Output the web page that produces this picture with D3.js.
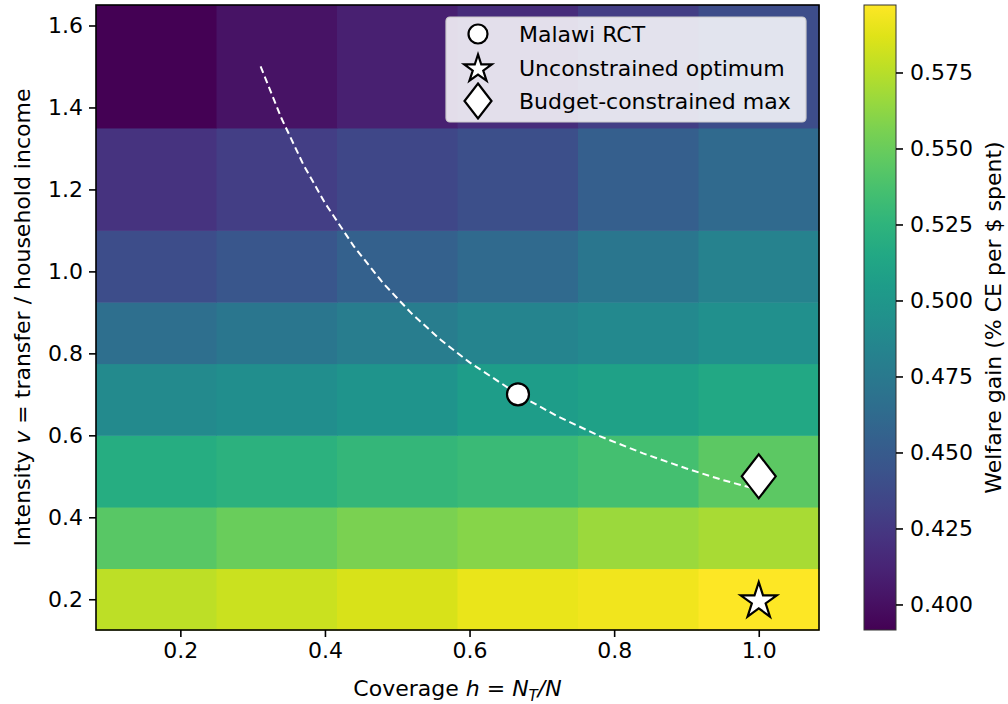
<!DOCTYPE html>
<html>
<head>
<meta charset="utf-8">
<script src="https://cdn.jsdelivr.net/npm/d3@7"></script>
<style>
  body { margin: 0; background: #fff; }
  svg text { font-family: "DejaVu Sans", sans-serif; fill: #000; }
</style>
</head>
<body>
<svg id="chart" width="1008" height="704"></svg>
<script>
// coverage h (columns) and intensity v (rows)
const coverage = [1 / 6, 2 / 6, 3 / 6, 4 / 6, 5 / 6, 1.0];
const intensity = [0.2, 0.35, 0.5, 0.7, 0.85, 1.0, 1.2, 1.5];

// welfare gain per cell, one row per intensity value (bottom to top)
const welfare = [
  [0.577, 0.581, 0.585, 0.590, 0.593, 0.597],
  [0.544, 0.550, 0.556, 0.560, 0.566, 0.570],
  [0.519, 0.523, 0.528, 0.531, 0.536, 0.545],
  [0.489, 0.492, 0.498, 0.505, 0.509, 0.515],
  [0.466, 0.472, 0.478, 0.484, 0.488, 0.494],
  [0.439, 0.447, 0.455, 0.462, 0.472, 0.482],
  [0.422, 0.429, 0.435, 0.441, 0.453, 0.462],
  [0.3916, 0.402, 0.410, 0.418, 0.429, 0.439]
];
const colorRange = [0.3916, 0.5972];

// iso-budget curve (dashed)
const budgetH = [0.311, 0.34, 0.37, 0.40, 0.44, 0.48, 0.52, 0.56, 0.60, 0.667, 0.72, 0.78, 0.84, 0.90, 0.95, 1.0];
const budgetV = [1.50, 1.373, 1.261, 1.167, 1.061, 0.972, 0.897, 0.833, 0.778, 0.70, 0.648, 0.598, 0.556, 0.519, 0.491, 0.467];

const points = [
  { name: "Malawi RCT", h: 0.667, v: 0.7, shape: "circle" },
  { name: "Unconstrained optimum", h: 1.0, v: 0.2, shape: "star" },
  { name: "Budget-constrained max", h: 1.0, v: 0.5, shape: "diamond" }
];

const xTicks = [0.2, 0.4, 0.6, 0.8, 1.0];
const yTicks = [0.2, 0.4, 0.6, 0.8, 1.0, 1.2, 1.4, 1.6];
const cTicks = [0.400, 0.425, 0.450, 0.475, 0.500, 0.525, 0.550, 0.575];

const plot = { left: 96, right: 819, top: 5, bottom: 630 };
const cbar = { left: 864, right: 896, top: 5, bottom: 630 };
const fontSize = 22;

const svg = d3.select("svg#chart");

// cell edges halfway between centres, extended at the ends
function edges(c) {
  const e = [c[0] - (c[1] - c[0]) / 2];
  for (let i = 0; i < c.length - 1; i++) e.push((c[i] + c[i + 1]) / 2);
  e.push(c[c.length - 1] + (c[c.length - 1] - c[c.length - 2]) / 2);
  return e;
}
const xEdges = edges(coverage);
const yEdges = edges(intensity);

const x = d3.scaleLinear().domain([xEdges[0], xEdges[xEdges.length - 1]]).range([plot.left, plot.right]);
const y = d3.scaleLinear().domain([yEdges[0], yEdges[yEdges.length - 1]]).range([plot.bottom, plot.top]);
const color = d3.scaleSequential(d3.interpolateViridis).domain(colorRange);

const cells = [];
welfare.forEach((row, j) => row.forEach((val, i) => cells.push({ i, j, val })));

svg.append("g")
  .selectAll("rect")
  .data(cells)
  .join("rect")
  .attr("x", (d) => x(xEdges[d.i]))
  .attr("y", (d) => y(yEdges[d.j + 1]))
  .attr("width", (d) => x(xEdges[d.i + 1]) - x(xEdges[d.i]) + 0.5)
  .attr("height", (d) => y(yEdges[d.j]) - y(yEdges[d.j + 1]) + 0.5)
  .attr("fill", (d) => color(d.val));

// dashed curve
const line = d3.line().x((d) => x(d[0])).y((d) => y(d[1]));
svg.append("path")
  .attr("d", line(budgetH.map((h, k) => [h, budgetV[k]])))
  .attr("fill", "none")
  .attr("stroke", "#fff")
  .attr("stroke-width", 2)
  .attr("stroke-dasharray", "7,4");

function starPath(R) {
  const pts = [];
  const r = R * 0.381966;
  for (let k = 0; k < 10; k++) {
    const a = -Math.PI / 2 + (k * Math.PI) / 5;
    const rr = k % 2 === 0 ? R : r;
    pts.push([rr * Math.cos(a), rr * Math.sin(a) + R * 0.1]);
  }
  return "M" + pts.map((p) => p.join(",")).join("L") + "Z";
}
function markerPath(shape, s) {
  if (shape === "circle") return d3.symbol(d3.symbolCircle, Math.PI * s.r * s.r)();
  if (shape === "star") return starPath(s.R);
  return `M0,${-s.h / 2}L${s.w / 2},0L0,${s.h / 2}L${-s.w / 2},0Z`;
}
const plotSize = { r: 11, R: 19, w: 34, h: 44 };
const legendSize = { r: 9.5, R: 14.5, w: 27, h: 35 };

svg.append("g")
  .selectAll("path")
  .data(points)
  .join("path")
  .attr("transform", (d) => `translate(${x(d.h)},${y(d.v)})`)
  .attr("d", (d) => markerPath(d.shape, plotSize))
  .attr("fill", "#fff")
  .attr("stroke", "#000")
  .attr("stroke-width", 2.2);

// frame
svg.append("rect")
  .attr("x", plot.left).attr("y", plot.top)
  .attr("width", plot.right - plot.left).attr("height", plot.bottom - plot.top)
  .attr("fill", "none").attr("stroke", "#000").attr("stroke-width", 1.6);

// axes
const xAxis = svg.append("g")
  .attr("transform", `translate(0,${plot.bottom})`)
  .call(d3.axisBottom(x).tickValues(xTicks).tickFormat(d3.format(".1f")).tickSize(7).tickPadding(5));
const yAxis = svg.append("g")
  .attr("transform", `translate(${plot.left},0)`)
  .call(d3.axisLeft(y).tickValues(yTicks).tickFormat(d3.format(".1f")).tickSize(7).tickPadding(6));
[xAxis, yAxis].forEach((g) => {
  g.select(".domain").remove();
  g.selectAll("line").attr("stroke", "#000").attr("stroke-width", 1.6);
  g.selectAll("text").attr("font-size", fontSize).attr("font-family", "DejaVu Sans");
});

// axis labels
const xl = svg.append("text")
  .attr("x", (plot.left + plot.right) / 2)
  .attr("y", 696)
  .attr("text-anchor", "middle")
  .attr("font-size", fontSize);
xl.append("tspan").text("Coverage ");
xl.append("tspan").attr("font-style", "italic").text("h");
xl.append("tspan").text(" = ");
xl.append("tspan").attr("font-style", "italic").text("N");
xl.append("tspan").attr("font-style", "italic").attr("font-size", 15).attr("dy", 5).text("T");
xl.append("tspan").attr("font-style", "italic").attr("dy", -5).text("/N");

const yl = svg.append("text")
  .attr("transform", `translate(30,${(plot.top + plot.bottom) / 2}) rotate(-90)`)
  .attr("text-anchor", "middle")
  .attr("font-size", fontSize);
yl.append("tspan").text("Intensity ");
yl.append("tspan").attr("font-style", "italic").text("v");
yl.append("tspan").text(" =  transfer / household income");

// legend
const legend = svg.append("g").attr("transform", "translate(446,17)");
legend.append("rect")
  .attr("width", 360).attr("height", 105).attr("rx", 4)
  .attr("fill", "#fff").attr("fill-opacity", 0.85)
  .attr("stroke", "#ccc").attr("stroke-width", 1.2);
const item = legend.selectAll("g.item")
  .data(points)
  .join("g")
  .attr("class", "item")
  .attr("transform", (d, k) => `translate(32,${17 + k * 33.5})`);
item.append("path")
  .attr("d", (d) => markerPath(d.shape, legendSize))
  .attr("fill", "#fff").attr("stroke", "#000").attr("stroke-width", 2.2);
item.append("text")
  .attr("x", 41).attr("y", 8)
  .attr("font-size", fontSize)
  .text((d) => d.name);

// colour bar
const defs = svg.append("defs");
const grad = defs.append("linearGradient")
  .attr("id", "cbgrad").attr("x1", 0).attr("y1", 1).attr("x2", 0).attr("y2", 0);
d3.range(0, 1.0001, 0.05).forEach((t) => {
  grad.append("stop").attr("offset", t).attr("stop-color", d3.interpolateViridis(t));
});
const c = d3.scaleLinear().domain(colorRange).range([cbar.bottom, cbar.top]);
svg.append("rect")
  .attr("x", cbar.left).attr("y", cbar.top)
  .attr("width", cbar.right - cbar.left).attr("height", cbar.bottom - cbar.top)
  .attr("fill", "url(#cbgrad)")
  .attr("stroke", "#333").attr("stroke-width", 1);
const cAxis = svg.append("g")
  .attr("transform", `translate(${cbar.right},0)`)
  .call(d3.axisRight(c).tickValues(cTicks).tickFormat(d3.format(".3f")).tickSize(7).tickPadding(7));
cAxis.select(".domain").remove();
cAxis.selectAll("line").attr("stroke", "#000").attr("stroke-width", 1.6);
cAxis.selectAll("text").attr("font-size", fontSize).attr("font-family", "DejaVu Sans");

svg.append("text")
  .attr("transform", `translate(1001,${(cbar.top + cbar.bottom) / 2}) rotate(-90)`)
  .attr("text-anchor", "middle")
  .attr("font-size", fontSize)
  .text("Welfare gain (% CE per $ spent)");
</script>
</body>
</html>
